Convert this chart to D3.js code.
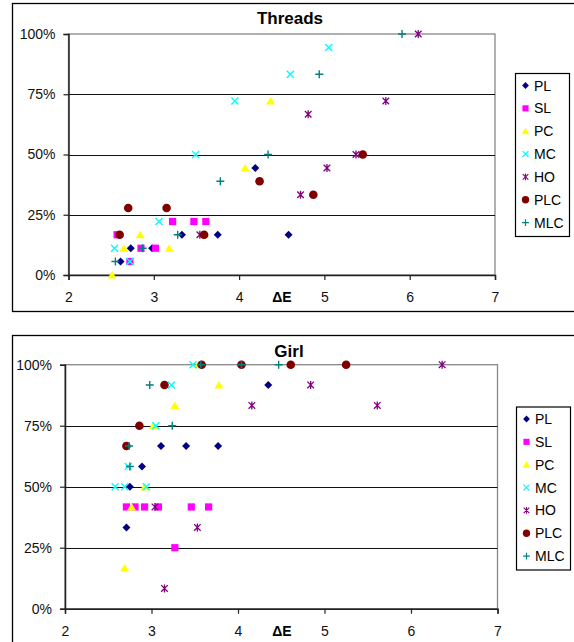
<!DOCTYPE html>
<html>
<head>
<meta charset="utf-8">
<script src="https://cdn.jsdelivr.net/npm/d3@7"></script>
<style>
  body { margin: 0; background: #fff; }
  svg { display: block; font-family: "Liberation Sans", Arial, sans-serif; }
</style>
</head>
<body>
<div id="vis"></div>
<script>
(function () {
  'use strict';

  // ---- data ----
  var SERIES = ['PL', 'SL', 'PC', 'MC', 'HO', 'PLC', 'MLC'];
  var X_TICKS = [2, 3, 4, 5, 6, 7];
  var Y_TICKS = [0, 25, 50, 75, 100];

  var threadsX = {
    PL:  [2.61, 2.73, 2.98, 3.33, 3.75, 4.19, 4.58],
    SL:  [2.57, 2.72, 2.85, 3.02, 3.22, 3.47, 3.61],
    PC:  [2.51, 2.65, 2.84, 3.18, 3.59, 4.07, 4.37],
    MC:  [2.54, 2.72, 3.06, 3.49, 3.95, 4.60, 5.05],
    HO:  [3.54, 4.72, 4.81, 5.03, 5.37, 5.72, 6.10],
    PLC: [2.60, 2.70, 3.15, 3.59, 4.24, 4.87, 5.45],
    MLC: [2.55, 2.87, 3.28, 3.78, 4.34, 4.94, 5.91]
  };
  var threadsY = {
    PL:  [5.6, 11.1, 11.1, 16.7, 16.7, 44.4, 16.7],
    SL:  [16.7, 5.6, 11.1, 11.1, 22.2, 22.2, 22.2],
    PC:  [0, 11.1, 16.7, 11.1, 16.7, 44.4, 72.2],
    MC:  [11.1, 5.6, 22.2, 50, 72.2, 83.3, 94.4],
    HO:  [16.7, 33.3, 66.7, 44.4, 50, 72.2, 100],
    PLC: [16.7, 27.8, 27.8, 16.7, 38.9, 33.3, 50],
    MLC: [5.6, 11.1, 16.7, 38.9, 50, 83.3, 100]
  };

  var girlX = {
    PL:  [2.71, 2.75, 2.89, 3.11, 3.40, 3.77, 4.35],
    SL:  [2.71, 2.81, 2.92, 3.08, 3.27, 3.46, 3.66],
    PC:  [2.69, 2.77, 2.92, 3.02, 3.27, 3.54, 3.78],
    MC:  [2.58, 2.69, 2.73, 2.94, 3.05, 3.23, 3.48],
    HO:  [3.04, 3.15, 3.53, 4.16, 4.84, 5.61, 6.36],
    PLC: [2.71, 2.86, 3.15, 3.58, 4.04, 4.61, 5.25],
    MLC: [2.74, 2.75, 2.98, 3.24, 3.57, 4.04, 4.47]
  };
  var girlY = {
    PL:  [33.3, 50, 58.3, 66.7, 66.7, 66.7, 91.7],
    SL:  [41.7, 41.7, 41.7, 41.7, 25, 41.7, 41.7],
    PC:  [16.7, 41.7, 50, 75, 83.3, 100, 91.7],
    MC:  [50, 50, 58.3, 50, 75, 91.7, 100],
    HO:  [41.7, 8.3, 33.3, 83.3, 91.7, 83.3, 100],
    PLC: [66.7, 75, 91.7, 100, 100, 100, 100],
    MLC: [66.7, 58.3, 91.7, 75, 100, 100, 100]
  };

  var COLORS = {
    PL: '#000080', SL: '#ff00ff', PC: '#ffff00', MC: '#00ffff',
    HO: '#800080', PLC: '#800000', MLC: '#008080'
  };

  var WIDTH = 574;
  var HEIGHT = 642;
  var svg = d3.select('#vis').append('svg')
    .attr('width', WIDTH)
    .attr('height', HEIGHT);

  // one marker per series, Excel-like shapes
  function marker(g, name, k) {
    k = k || 1;
    var c = COLORS[name];
    if (name === 'PL') {
      g.append('path').attr('d', 'M0,' + (-4 * k) + 'L' + (4 * k) + ',0L0,' + (4 * k) + 'L' + (-4 * k) + ',0Z')
        .attr('fill', c);
    } else if (name === 'SL') {
      g.append('rect').attr('x', -3.6 * k).attr('y', -3.6 * k)
        .attr('width', 7.2 * k).attr('height', 7.2 * k).attr('fill', c);
    } else if (name === 'PC') {
      g.append('path').attr('d', 'M0,' + (-4 * k) + 'L' + (4.5 * k) + ',' + (3.6 * k) + 'L' + (-4.5 * k) + ',' + (3.6 * k) + 'Z')
        .attr('fill', c);
    } else if (name === 'MC') {
      g.append('path').attr('d', 'M-3.5,-3.5L3.5,3.5M-3.5,3.5L3.5,-3.5')
        .attr('transform', 'scale(' + k + ')')
        .attr('stroke', c).attr('stroke-width', 1.4).attr('fill', 'none');
    } else if (name === 'HO') {
      g.append('path').attr('d', 'M-3.3,-3.3L3.3,3.3M-3.3,3.3L3.3,-3.3M0,-4V4')
        .attr('transform', 'scale(' + k + ')')
        .attr('stroke', c).attr('stroke-width', 1.3).attr('fill', 'none');
    } else if (name === 'PLC') {
      g.append('circle').attr('r', 4.3 * k).attr('fill', c);
    } else {
      g.append('path').attr('d', 'M-4,0H4M0,-4V4')
        .attr('transform', 'scale(' + k + ')')
        .attr('stroke', c).attr('stroke-width', 1.4).attr('fill', 'none');
    }
  }

  function drawChart(cfg) {
    var root = svg.append('g');

    // outer chart frame (runs off the right edge like the source)
    root.append('rect')
      .attr('x', 12.5).attr('y', cfg.frameTop + 0.5)
      .attr('width', 600).attr('height', cfg.frameH)
      .attr('fill', 'none').attr('stroke', '#000').attr('stroke-width', 1.3);

    root.append('text')
      .attr('x', cfg.titleX).attr('y', cfg.titleY)
      .attr('text-anchor', 'middle')
      .attr('font-size', 17).attr('font-weight', 'bold')
      .text(cfg.title);

    var x = d3.scaleLinear().domain([2, 7]).range([cfg.left, cfg.right]);
    var y = d3.scaleLinear().domain([0, 100]).range([cfg.bottom, cfg.top]);

    // plot area border (gray) and gridlines (black)
    root.append('rect')
      .attr('x', cfg.left).attr('y', cfg.top)
      .attr('width', cfg.right - cfg.left).attr('height', cfg.bottom - cfg.top)
      .attr('fill', 'none').attr('stroke', '#888').attr('stroke-width', 1.3);
    root.selectAll('line.grid')
      .data(Y_TICKS.filter(function (d) { return d > 0 && d < 100; }))
      .enter().append('line')
      .attr('class', 'grid')
      .attr('x1', cfg.left).attr('x2', cfg.right)
      .attr('y1', function (d) { return Math.round(y(d)) + 0.5; })
      .attr('y2', function (d) { return Math.round(y(d)) + 0.5; })
      .attr('stroke', '#111').attr('stroke-width', 1.1);

    var yAxis = root.append('g')
      .attr('transform', 'translate(' + cfg.left + ',0)')
      .call(d3.axisLeft(y).tickValues(Y_TICKS).tickSize(5).tickPadding(8)
        .tickFormat(function (d) { return d + '%'; }));
    var xAxis = root.append('g')
      .attr('transform', 'translate(0,' + cfg.bottom + ')')
      .call(d3.axisBottom(x).tickValues(X_TICKS).tickSize(5).tickPadding(12)
        .tickFormat(d3.format('d')));
    [xAxis, yAxis].forEach(function (a) {
      a.attr('font-family', null).attr('font-size', 14);
      a.select('.domain').attr('stroke', '#222').attr('stroke-width', 1.5);
      a.selectAll('.tick line').attr('stroke', '#222').attr('stroke-width', 1.2);
      a.selectAll('.tick text').attr('fill', '#111');
    });

    root.append('text')
      .attr('x', cfg.labelX).attr('y', cfg.bottom + 27)
      .attr('text-anchor', 'middle')
      .attr('font-size', 14).attr('font-weight', 'bold')
      .text('\u0394E');

    // points, series in Excel plotting order
    SERIES.forEach(function (name) {
      var pts = cfg.xs[name].map(function (v, i) { return [v, cfg.ys[name][i]]; });
      root.selectAll('g.pt-' + name)
        .data(pts)
        .enter().append('g')
        .attr('class', 'pt-' + name)
        .attr('transform', function (d) { return 'translate(' + x(d[0]) + ',' + y(d[1]) + ')'; })
        .each(function () { marker(d3.select(this), name); });
    });

    // legend
    var lg = root.append('g');
    lg.append('rect')
      .attr('x', cfg.legX + 0.5).attr('y', cfg.legY + 0.5)
      .attr('width', 54).attr('height', 163)
      .attr('fill', '#fff').attr('stroke', '#000').attr('stroke-width', 1.2);
    SERIES.forEach(function (name, i) {
      var row = lg.append('g')
        .attr('transform', 'translate(' + (cfg.legX + 10.5) + ',' + (cfg.legY + 12.5 + i * 22.85) + ')');
      marker(row.append('g'), name, 0.85);
      row.append('text')
        .attr('x', 8.5).attr('y', 5)
        .attr('font-size', 14)
        .text(name);
    });
  }

  drawChart({
    title: 'Threads', titleX: 290, titleY: 24,
    frameTop: 3, frameH: 308,
    left: 68.5, right: 495, top: 34, bottom: 275,
    labelX: 282,
    legX: 515, legY: 73,
    xs: threadsX, ys: threadsY
  });

  drawChart({
    title: 'Girl', titleX: 289, titleY: 357,
    frameTop: 335, frameH: 400,
    left: 65, right: 497.5, top: 364.7, bottom: 608.7,
    labelX: 282,
    legX: 516, legY: 406.5,
    xs: girlX, ys: girlY
  });
})();
</script>
</body>
</html>
